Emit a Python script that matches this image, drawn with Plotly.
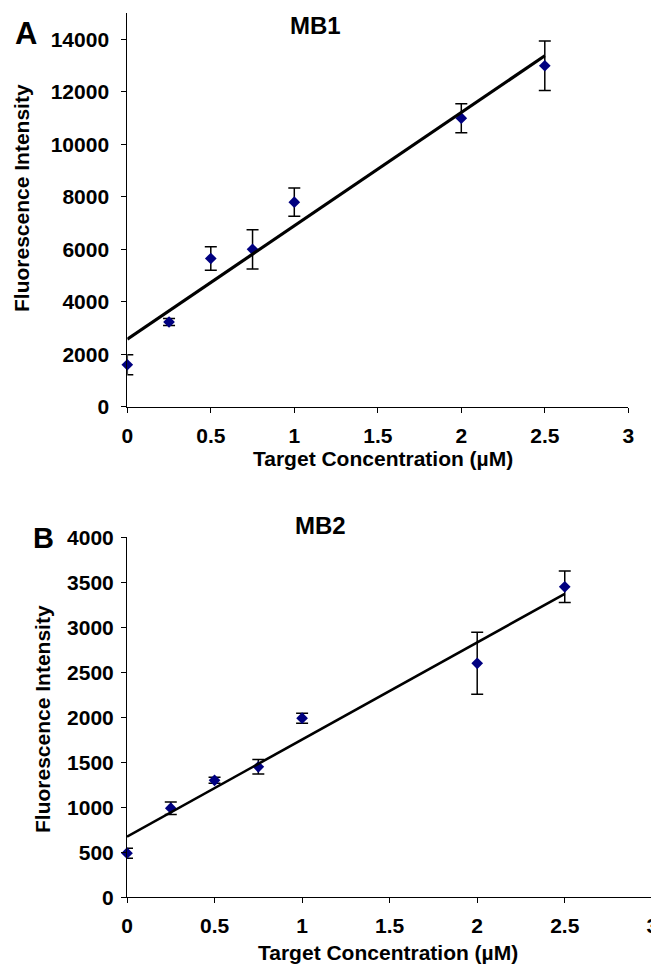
import numpy as np
import plotly.graph_objects as go

# ---- data ----
conc = [0, 0.25, 0.5, 0.75, 1, 2, 2.5]
mb1_values = [1600, 3230, 5650, 6000, 7800, 11000, 13000]
mb1_errors = [380, 130, 450, 750, 540, 550, 940]
mb2_values = [490, 990, 1300, 1450, 1990, 2600, 3450]
mb2_errors = [55, 70, 33, 80, 55, 345, 175]
x_ticks = [0, 0.5, 1, 1.5, 2, 2.5, 3]
mb1_yticks = [0, 2000, 4000, 6000, 8000, 10000, 12000, 14000]
mb2_yticks = [0, 500, 1000, 1500, 2000, 2500, 3000, 3500, 4000]

# page is 659x964; the html body has an 8px default margin
OFF = 8
W, H = 659 - OFF, 964 - OFF
FONT = "Liberation Sans, Arial, Helvetica, sans-serif"
NAVY = "#000080"


def px(x):
    return (x - OFF) / W


def py(y):
    return (H - (y - OFF)) / H


fig = go.Figure()

for vals, errs, xa, ya, lw in [
    (mb1_values, mb1_errors, "x", "y", 3.2),
    (mb2_values, mb2_errors, "x2", "y2", 2.6),
]:
    fig.add_trace(go.Scatter(
        x=conc, y=vals, mode="markers", xaxis=xa, yaxis=ya,
        marker=dict(symbol="diamond", size=9, color=NAVY, line=dict(width=0)),
        error_y=dict(type="data", array=errs, visible=True,
                     color="black", thickness=1.5, width=6),
        cliponaxis=False, showlegend=False,
    ))
    slope, icpt = np.polyfit(conc, vals, 1)
    xs = [min(conc), max(conc)]
    fig.add_trace(go.Scatter(
        x=xs, y=[icpt + slope * v for v in xs], mode="lines",
        xaxis=xa, yaxis=ya, line=dict(color="black", width=lw),
        cliponaxis=False, showlegend=False,
    ))

axis_common = dict(
    showgrid=False, zeroline=False, showline=True, linecolor="black",
    linewidth=1, ticks="outside", ticklen=5, tickcolor="black", tickwidth=1,
    tickfont=dict(family=FONT, size=21, color="black", weight="bold"),
    fixedrange=True, automargin=False,
)

fig.update_layout(
    template="none",
    width=W, height=H,
    margin=dict(l=0, r=0, t=0, b=0, pad=0),
    paper_bgcolor="white", plot_bgcolor="white",
    font=dict(family=FONT, color="black"),
    showlegend=False,
    xaxis=dict(axis_common, domain=[px(127.3), px(628.3)], range=[0, 3],
               tickvals=x_ticks, ticktext=[f"{v:g}" for v in x_ticks],
               anchor="y", ticklabelstandoff=5),
    yaxis=dict(axis_common, domain=[py(406.7), py(13.3)], range=[0, 15000],
               tickvals=mb1_yticks, ticktext=[str(v) for v in mb1_yticks],
               anchor="x", ticklabelstandoff=8),
    xaxis2=dict(axis_common, domain=[px(127.0), px(652.3)], range=[0, 3],
                tickvals=x_ticks, ticktext=[f"{v:g}" for v in x_ticks],
                anchor="y2", ticklabelstandoff=4),
    yaxis2=dict(axis_common, domain=[py(897.3), py(537.3)], range=[0, 4000],
                tickvals=mb2_yticks, ticktext=[str(v) for v in mb2_yticks],
                anchor="x2", ticklabelstandoff=3),
)

def ann(text, x, y, size, angle=0):
    fig.add_annotation(
        text=text, x=px(x), y=py(y), xref="paper", yref="paper",
        xanchor="center", yanchor="middle", showarrow=False, textangle=angle,
        font=dict(family=FONT, size=size, color="black", weight="bold"),
    )

ann("A", 26, 33, 31)
ann("MB1", 315, 25, 24)
ann("Fluorescence Intensity", 21, 198, 21, -90)
ann("Target Concentration (µM)", 383, 458, 21)

ann("B", 43, 538, 29)
ann("MB2", 320, 525, 24)
ann("Fluorescence Intensity", 42, 719, 21, -90)
ann("Target Concentration (µM)", 388, 952, 21)

fig.write_html("out.html")
